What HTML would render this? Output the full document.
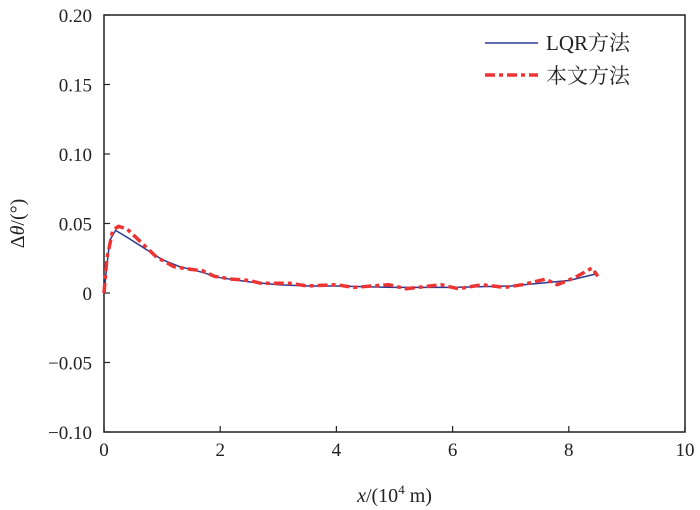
<!DOCTYPE html>
<html><head><meta charset="utf-8"><style>
body{margin:0;background:#fff;}
svg{display:block;font-family:"Liberation Serif","Noto Serif CJK SC",serif;}
</style></head><body>
<svg id="chart" width="700" height="510"></svg>
<script>
const xTicks=[0,2,4,6,8,10];
const yTicks=[-0.10,-0.05,0,0.05,0.10,0.15,0.20];
const yTickLabels=["\u22120.10","\u22120.05","0","0.05","0.10","0.15","0.20"];
const lqrX=[0,0.05,0.1,0.2,0.4,0.7,1.0,1.3,1.6,2,2.5,3,3.5,4,5,6,7,7.5,8,8.5];
const lqrY=[0,0.02,0.038,0.045,0.040,0.032,0.024,0.019,0.016,0.011,0.008,0.006,0.005,0.005,0.004,0.004,0.005,0.007,0.009,0.014];
const oursX=[0,0.05,0.15,0.25,0.4,0.6,0.9,1.2,1.5,1.7,1.9,2.2,2.5,2.7,3.2,3.5,4.0,4.3,4.9,5.2,5.8,6.1,6.5,6.9,7.2,7.6,7.8,8.1,8.4,8.5];
const oursY=[0,0.025,0.045,0.048,0.046,0.038,0.026,0.019,0.017,0.016,0.012,0.010,0.009,0.007,0.007,0.005,0.006,0.004,0.006,0.003,0.006,0.003,0.006,0.004,0.006,0.010,0.006,0.011,0.018,0.012];
const svg=document.getElementById('chart');
const NS='http://www.w3.org/2000/svg';
const L=104,R=685,T=15,B=432;
const xs=v=>L+(v-0)/10*(R-L);
const ys=v=>B-(v+0.1)/0.3*(B-T);
function mk(tag,attrs,parent){const e=document.createElementNS(NS,tag);for(const k in attrs)e.setAttribute(k,attrs[k]);(parent||svg).appendChild(e);return e;}
const frame=mk('rect',{x:L,y:T,width:R-L,height:B-T,fill:'none',stroke:'#222','stroke-width':1.5});


xTicks.forEach((t,i)=>{
  const x=xs(t);
  const tk=mk('line',{x1:x,x2:x,y1:B,y2:B-6,stroke:'#222','stroke-width':1.2});
  
  
  const tx=mk('text',{x:x,y:B+24,'text-anchor':'middle','font-size':19,fill:'#222'});
  tx.textContent=String(t);
  
  
});
yTicks.forEach((t,i)=>{
  const y=ys(t);
  const tk=mk('line',{x1:L,x2:L+6,y1:y,y2:y,stroke:'#222','stroke-width':1.2});
  
  
  const tx=mk('text',{x:L-12,y:y+7,'text-anchor':'end','font-size':19,fill:'#222'});
  tx.textContent=yTickLabels[i];
  
  
});
function path(X,Y){return X.map((v,i)=>(i?'L':'M')+xs(v).toFixed(1)+','+ys(Y[i]).toFixed(1)).join(' ');}
const l1=mk('path',{d:path(lqrX,lqrY),fill:'none',stroke:'#2b3990','stroke-width':1.5});


const l2=mk('path',{d:path(oursX,oursY),fill:'none',stroke:'#ee3333','stroke-width':3.5,'stroke-dasharray':'10,4,4,4','stroke-linejoin':'round'});


// legend
const lg=mk('g',{});


const a=mk('line',{x1:485,x2:538,y1:43,y2:43,stroke:'#2b3990','stroke-width':1.5},lg);


const at=mk('text',{x:546,y:50,'font-size':21,fill:'#222'},lg);
at.textContent='LQR方法';


const b=mk('line',{x1:485,x2:538,y1:75,y2:75,stroke:'#ee3333','stroke-width':3.5,'stroke-dasharray':'10,4,4,4'},lg);


const bt=mk('text',{x:546,y:83,'font-size':21,fill:'#222'},lg);
bt.textContent='本文方法';


const xt=mk('text',{x:(L+R)/2,y:502,'text-anchor':'middle','font-size':20,fill:'#222'});
xt.innerHTML='<tspan font-style="italic">x</tspan>/(10<tspan font-size="13" dy="-8">4</tspan><tspan dy="8"> m)</tspan>';


const yt=mk('text',{x:0,y:0,'text-anchor':'middle','font-size':20,fill:'#222',transform:'translate(24,'+((T+B)/2)+') rotate(-90)'});
yt.innerHTML='Δ<tspan font-style="italic">θ</tspan>/(°)';


</script>
</body></html>
